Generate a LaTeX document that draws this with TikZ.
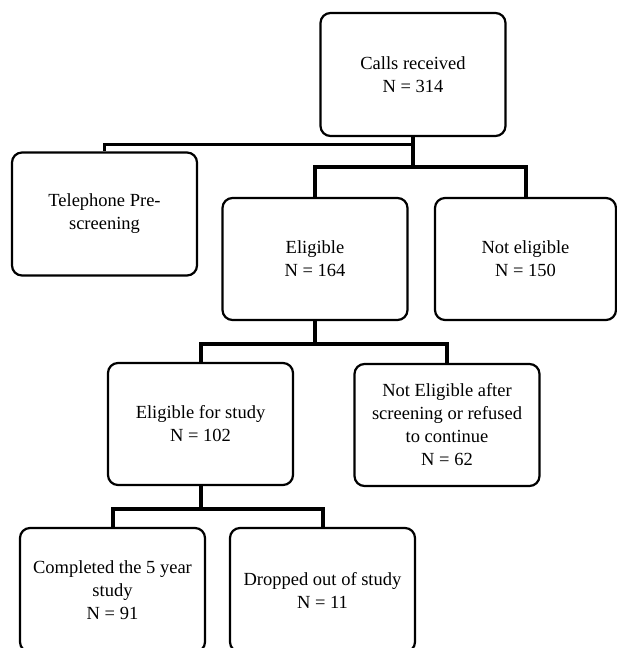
\documentclass[tikz,border=0pt]{standalone}
\usepackage{fontspec}
\setmainfont{Liberation Serif}
\usetikzlibrary{positioning}

\tikzset{
  box/.style={draw,line width=2.2pt,rounded corners=10pt,minimum width=185pt,minimum height=123pt,align=center,inner sep=1pt,font=\fontsize{18.5}{23}\selectfont},
  link/.style={line width=3pt},
  trunk/.style={line width=4pt}
}

\begin{document}
\begin{tikzpicture}[x=1pt,y=-1pt]
  % Constants
  \pgfmathsetmacro\g{23}
  % Boundary
  \useasboundingbox (0,0) rectangle (617,648);
  % Boxes
  \node[box] (calls) at (413,74.5) {Calls received\\N = 314};
  \node[box] (tel) at (104.5,214) {Telephone Pre-\\screening};
  \node[box,minimum height=122pt] (elig) at (315,259) {Eligible\\N = 164};
  \node[box,minimum width=181pt,minimum height=122pt] (notelig) at (525.5,259) {Not eligible\\N = 150};
  \node[box,minimum height=122pt] (study) at (200.5,424) {Eligible for study\\N = 102};
  \node[box,minimum height=122pt] (refused) at (447,425) {Not Eligible after\\screening or refused\\to continue\\N = 62};
  \node[box,minimum height=124pt] (done) at (112.5,590) {Completed the 5 year\\study\\N = 91};
  \node[box,minimum height=124pt] (dropped) at (322.5,590) {Dropped out of study\\N = 11};
  % Connectors
  \draw[link] ([yshift=-7pt]calls.south) -| (tel.north);
  \draw[trunk] (calls.south) -- ([yshift=-30pt]calls.south) -| (elig.north);
  \draw[trunk] ([yshift=-30pt]calls.south) -| (notelig.north);
  \draw[trunk] (elig.south) -- ([yshift=-\g pt]elig.south) -| (study.north);
  \draw[trunk] ([yshift=-\g pt]elig.south) -| (refused.north);
  \draw[trunk] (study.south) -- ([yshift=-\g pt]study.south) -| (done.north);
  \draw[trunk] ([yshift=-\g pt]study.south) -| (dropped.north);
\end{tikzpicture}
\end{document}
